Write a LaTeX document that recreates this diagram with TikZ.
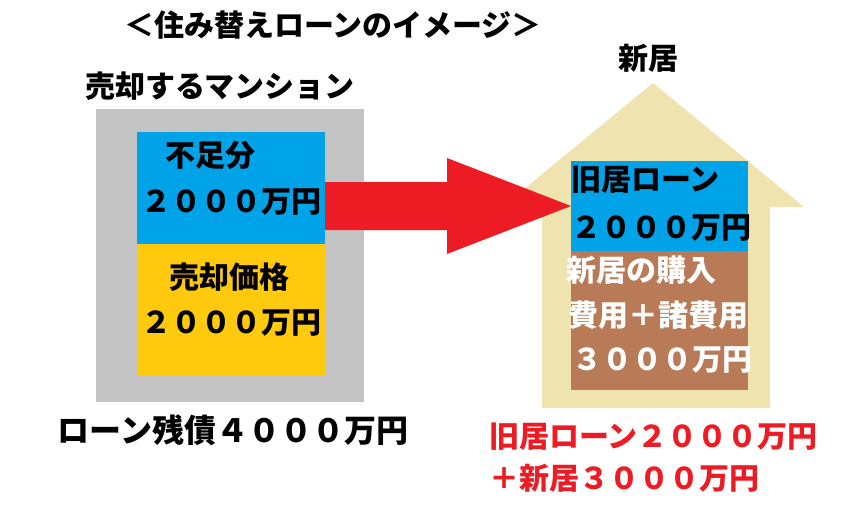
\documentclass[tikz,border=0pt]{standalone}
\usepackage{fontspec}
\newfontfamily\jp{Noto Sans CJK JP}
\definecolor{paintgray}{HTML}{C3C3C3}
\definecolor{paintblue}{HTML}{00A2E8}
\definecolor{paintyellow}{HTML}{FFC90E}
\definecolor{paintred}{HTML}{ED1C24}
\definecolor{housetan}{HTML}{EFE4B0}
\definecolor{paintbrown}{HTML}{B97A57}
\begin{document}
\begin{tikzpicture}[x=1pt, y=-1pt]
        \tikzset{
            panel/.style={inner sep=0pt, outer sep=0pt},
            txt/.style={inner sep=0pt, font=\jp\bfseries\fontsize{30}{36}\selectfont},
            bigtxt/.style={inner sep=0pt, font=\jp\bfseries\fontsize{32}{38}\selectfont}
        }
        \useasboundingbox (0,0) rectangle (855,504);

        \node[panel, fill=paintgray, minimum width=268pt, minimum height=293pt] (mansion) at (230,255.5) {};
        \node[panel, fill=paintblue, minimum width=188pt, minimum height=112pt] (fusoku) at (231,188) {};
        \node[panel, fill=paintyellow, minimum width=188pt, minimum height=131pt] (baikyaku) at (231,309.5) {};

        \fill[housetan] (653,83) -- (804,207) -- (770,207) -- (770,408) -- (542,408) -- (542,207) -- (502,207) -- cycle;
        \node[panel, fill=paintblue, minimum width=177pt, minimum height=90pt] (kyuu) at (659.5,206) {};
        \node[panel, fill=paintbrown, minimum width=177pt, minimum height=139pt] (shinkyo) at (659.5,320.5) {};

        \fill[paintred] (fusoku.east |- kyuu.west) ++(0,-24) -- ++(122,0) -- ++(0,-24) -- (kyuu.west) -- ++(-124,48) -- ++(0,-24) -- ++(-122,0) -- cycle;

        \node[txt] (title) at (333,25) {＜住み替えローンのイメージ＞};
        \node[txt, anchor=west] (mansionlabel) at (85,86) {売却するマンション};
        \node[txt] (newhome) at (648,58) {新居};

        \node[txt, anchor=west] (fusokulabel) at (165,155) {不足分};
        \node[txt] (fusokuyen) at (231,202) {２０００万円};
        \node[txt] (baikyakulabel) at (229,277) {売却価格};
        \node[txt] (baikyakuyen) at (231,323) {２０００万円};
        \node[bigtxt] (zansai) at (233,430) {ローン残債４０００万円};

        \node[txt, anchor=west] (kyuulabel) at (571,180) {旧居ローン};
        \node[txt] (kyuuyen) at (661,228) {２０００万円};
        \node[txt, anchor=west, white] (shinkyolabel) at (566,270) {新居の購入};
        \node[txt, white] (shohiyou) at (658,315) {費用＋諸費用};
        \node[txt, white] (shinkyoyen) at (662,360) {３０００万円};

        \node[txt, anchor=west, paintred] (total1) at (489,437) {旧居ローン２０００万円};
        \node[txt, anchor=west, paintred] (total2) at (489,478) {＋新居３０００万円};
    \end{tikzpicture}
\end{document}
